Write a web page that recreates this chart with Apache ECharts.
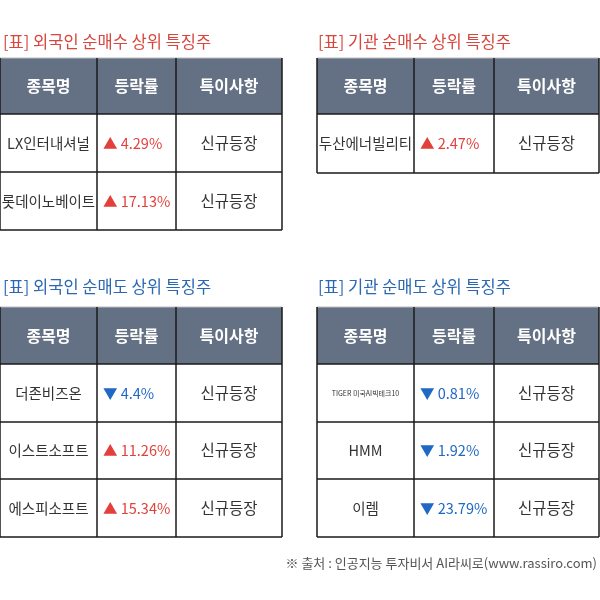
<!DOCTYPE html>
<html><head><meta charset="utf-8">
<script src="https://cdn.jsdelivr.net/npm/echarts@6/dist/echarts.min.js"></script>
<style>html,body{margin:0;padding:0;background:#fff}#c{width:600px;height:600px}</style>
</head><body><div id="c"></div>
<script>
var headers = ['종목명', '등락률', '특이사항'];
var titles = ['[표] 외국인 순매수 상위 특징주', '[표] 기관 순매수 상위 특징주', '[표] 외국인 순매도 상위 특징주', '[표] 기관 순매도 상위 특징주'];
var names1 = ['LX인터내셔널', '롯데이노베이트'];
var changes1 = [4.29, 17.13];
var names2 = ['두산에너빌리티'];
var changes2 = [2.47];
var names3 = ['더존비즈온', '이스트소프트', '에스피소프트'];
var changes3 = [-4.4, 11.26, 15.34];
var names4 = ['TIGER 미국AI빅테크10', 'HMM', '이렘'];
var changes4 = [-0.81, -1.92, -23.79];
var note = '신규등장';
var source = '※ 출처 : 인공지능 투자비서 AI라씨로(www.rassiro.com)';

var FONT = '"Noto Sans CJK KR", "Noto Sans", sans-serif';
var RED = '#e2413b', BLUE = '#1f68c4';
var layouts = [
  {cols: [0, 97, 176, 282], titleX: 3, titleY: 42, top: 58, header: 56, rows: [58, 58], titleColor: '#d8463d'},
  {cols: [317, 414, 494, 599], titleX: 318, titleY: 42, top: 58, header: 56, rows: [59], titleColor: '#d8463d'},
  {cols: [0, 97, 176, 282], titleX: 3, titleY: 287, top: 307, header: 57, rows: [58, 57, 58], titleColor: '#2b67b3'},
  {cols: [317, 414, 494, 599], titleX: 318, titleY: 287, top: 307, header: 57, rows: [58, 57, 58], titleColor: '#2b67b3'}
];
var tables = [[names1, changes1], [names2, changes2], [names3, changes3], [names4, changes4]];

var g = [];
tables.forEach(function (t, ti) {
  var L = layouts[ti], names = t[0], ch = t[1];
  var c = L.cols;
  g.push({type: 'text', x: L.titleX, y: L.titleY, style: {text: titles[ti], font: '16.5px ' + FONT, fill: L.titleColor, textVerticalAlign: 'middle'}});
  g.push({type: 'rect', shape: {x: c[0], y: L.top, width: c[3] - c[0], height: L.header}, style: {fill: '#647083', stroke: null}});
  headers.forEach(function (h, i) {
    g.push({type: 'text', x: (c[i] + c[i + 1]) / 2, y: L.top + L.header / 2, style: {text: h, font: 'bold 16px ' + FONT, fill: '#ffffff', textAlign: 'center', textVerticalAlign: 'middle'}});
  });
  var y = L.top + L.header;
  names.forEach(function (n, r) {
    var h = L.rows[r], cy = y + h / 2;
    var small = n.length > 10;
    g.push({type: 'text', x: (c[0] + c[1]) / 2, y: cy, style: {text: n, font: (small ? '7px ' : '14.5px ') + FONT, fill: '#333', textAlign: 'center', textVerticalAlign: 'middle'}});
    var v = ch[r], up = v > 0, col = up ? RED : BLUE;
    g.push({type: 'text', x: c[1] + 6, y: cy, style: {text: (up ? '▲ ' : '▼ ') + Math.abs(v) + '%', font: '14.5px ' + FONT, fill: col, textVerticalAlign: 'middle'}});
    g.push({type: 'text', x: (c[2] + c[3]) / 2, y: cy, style: {text: note, font: '15.5px ' + FONT, fill: '#333', textAlign: 'center', textVerticalAlign: 'middle'}});
    y += h;
    g.push({type: 'line', shape: {x1: c[0], y1: y, x2: c[3], y2: y}, style: {stroke: '#1a1a1a', lineWidth: 1.5}});
  });
  var bottom = y;
  g.push({type: 'line', shape: {x1: c[0], y1: L.top, x2: c[3], y2: L.top}, style: {stroke: '#bbbbbb', lineWidth: 1}});
  g.push({type: 'line', shape: {x1: c[0], y1: L.top + L.header, x2: c[3], y2: L.top + L.header}, style: {stroke: '#1a1a1a', lineWidth: 1.5}});
  c.forEach(function (x) {
    g.push({type: 'line', shape: {x1: x, y1: L.top, x2: x, y2: bottom}, style: {stroke: '#1a1a1a', lineWidth: 1.5}});
  });
});
g.push({type: 'text', x: 597, y: 563, style: {text: source, font: '13px ' + FONT, fill: '#555', textAlign: 'right', textVerticalAlign: 'middle'}});

var chart = echarts.init(document.getElementById('c'), null, {renderer: 'canvas'});
chart.setOption({animation: false, graphic: {elements: g}});
</script></body></html>
